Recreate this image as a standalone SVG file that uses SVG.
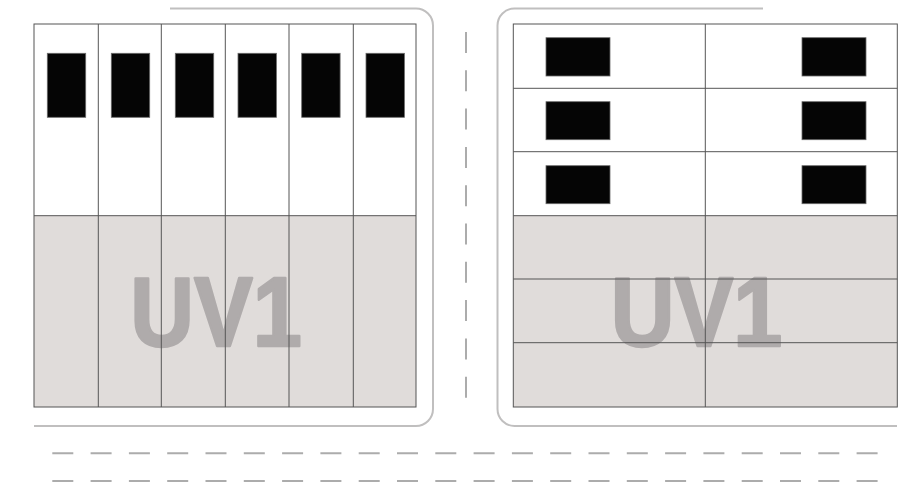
<svg xmlns="http://www.w3.org/2000/svg" width="911" height="504" viewBox="0 0 911 504">
<style>
.bg{fill:#ffffff}
.gray{fill:#e0dcda}
.grid{fill:none;stroke:#555555;stroke-width:1}
.blk{fill:#050505;stroke:#6a6a6a;stroke-width:0.8}
.frame{fill:none;stroke:#c0bfbf;stroke-width:2}
.dash{fill:none;stroke:#acacac;stroke-width:2;stroke-dasharray:21 17.3}
.uv{font-family:"Liberation Sans",Arial,sans-serif;font-weight:bold;font-size:98px;fill:#afabab;stroke:#afabab;stroke-width:2.5;stroke-linejoin:round;text-anchor:middle}
</style>
<rect x="0" y="0" width="911" height="504" fill="#ffffff"/>

<g id="left-panel">
  <path class="frame" d="M170,8.5 H416 A17,17 0 0 1 433,25.5 V409 A17,17 0 0 1 416,426 H34"/>
  <rect class="bg" x="34" y="24" width="382" height="191.7"/>
  <rect class="gray" x="34" y="215.7" width="382" height="191.3"/>
  <text class="uv" transform="translate(216,345.5) scale(0.9,1)" x="0" y="0">UV1</text>
  <rect class="grid" x="34" y="24" width="382" height="383"/>
  <path class="grid" d="M34,215.7 H416 M98.3,24 V407 M161.3,24 V407 M225.3,24 V407 M289,24 V407 M353.3,24 V407"/>
  <rect class="blk" x="47.3" y="53.3" width="38.4" height="64"/>
  <rect class="blk" x="111.3" y="53.3" width="38.4" height="64"/>
  <rect class="blk" x="175.3" y="53.3" width="38.4" height="64"/>
  <rect class="blk" x="238" y="53.3" width="38.4" height="64"/>
  <rect class="blk" x="301.7" y="53.3" width="38.4" height="64"/>
  <rect class="blk" x="366" y="53.3" width="38.4" height="64"/>
</g>

<g id="right-panel">
  <path class="frame" d="M763,8.5 H514.5 A17,17 0 0 0 497.5,25.5 V409 A17,17 0 0 0 514.5,426 H897"/>
  <rect class="bg" x="513.3" y="24" width="384" height="191.7"/>
  <rect class="gray" x="513.3" y="215.7" width="384" height="191.3"/>
  <text class="uv" transform="translate(696.5,345.5) scale(0.9,1)" x="0" y="0">UV1</text>
  <rect class="grid" x="513.3" y="24" width="384" height="383"/>
  <path class="grid" d="M705.3,24 V407 M513.3,88.3 H897.3 M513.3,151.7 H897.3 M513.3,215.7 H897.3 M513.3,279 H897.3 M513.3,342.7 H897.3"/>
  <rect class="blk" x="546" y="37.7" width="64" height="38.3"/>
  <rect class="blk" x="802" y="37.7" width="64" height="38.3"/>
  <rect class="blk" x="546" y="101.7" width="64" height="38"/>
  <rect class="blk" x="802" y="101.7" width="64" height="38"/>
  <rect class="blk" x="546" y="165.7" width="64" height="38"/>
  <rect class="blk" x="802" y="165.7" width="64" height="38"/>
</g>

<g id="connectors">
  <line class="dash" x1="466" y1="32" x2="466" y2="400"/>
  <line class="dash" x1="52.3" y1="453.3" x2="880" y2="453.3"/>
  <line class="dash" x1="52.3" y1="481" x2="880" y2="481"/>
</g>
</svg>
